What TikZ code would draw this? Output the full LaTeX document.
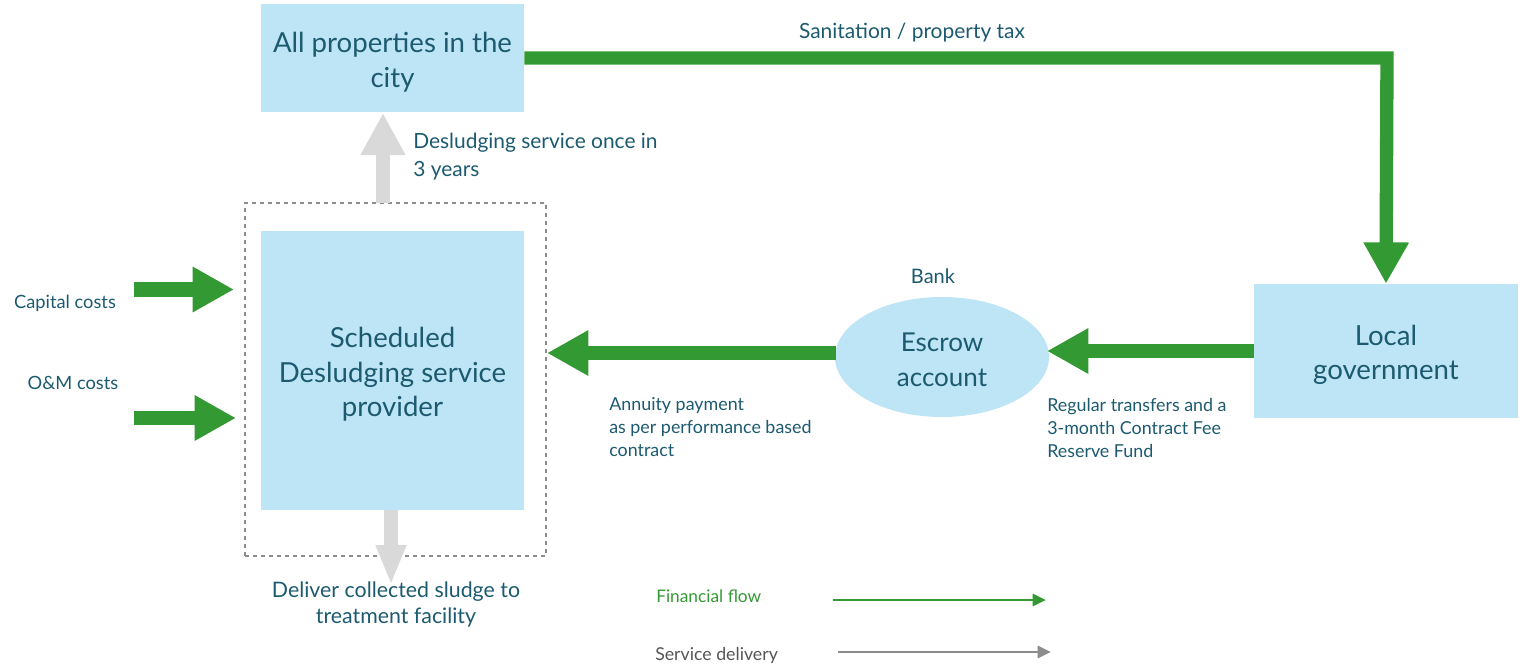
\documentclass[tikz,border=0pt]{standalone}
\usepackage{fontspec}
\setmainfont{Lato}
\usetikzlibrary{arrows.meta,shapes.geometric}
\definecolor{boxblue}{HTML}{BDE5F5}
\definecolor{txt}{HTML}{1C5A70}
\definecolor{fgreen}{HTML}{339933}
\definecolor{lgray}{HTML}{D9D9D9}
\definecolor{dgray}{HTML}{8C8C8C}
\definecolor{ltxt}{HTML}{555555}
\tikzset{
  bluebox/.style={rectangle, fill=boxblue, draw=none, text=txt, align=center, inner sep=0pt, font=\fontsize{20.7pt}{26pt}\selectfont},
  lbl/.style={text=txt, inner sep=0pt, font=\fontsize{13.5pt}{17.5pt}\selectfont},
  biggreen/.style={draw=fgreen, line width=10pt, line join=miter, -{Triangle[length=31pt,width=32pt]}},
  biggray/.style={draw=lgray, line width=10.5pt, -{Triangle[length=31.5pt,width=31.5pt]}},
  thingreen/.style={draw=fgreen, line width=2.2pt, -{Triangle[length=10pt,width=9pt]}},
  thingray/.style={draw=dgray, line width=2.2pt, -{Triangle[length=10pt,width=9pt]}},
}
\begin{document}
\begin{tikzpicture}[x=0.75pt,y=-0.75pt]
\useasboundingbox (0,0) rectangle (1521,664);

% main nodes
\node[bluebox, minimum width=197.25pt, minimum height=81pt] (props) at (392.5,58) {};
\node[bluebox] (propstxt) at (392.5,62) {All properties in the\\city};
\node[draw=dgray, dashed, line width=0.8pt, minimum width=225.75pt, minimum height=264.75pt, inner sep=0pt] (dash) at (395.5,379.5) {};
\node[bluebox, minimum width=197.25pt, minimum height=209.25pt] (sched) at (392.5,370.5) {};
\node[bluebox] (schedtxt) at (392.5,374.5) {Scheduled\\Desludging service\\provider};
\node[bluebox, minimum width=198pt, minimum height=100.5pt] (local) at (1386,351) {};
\node[bluebox] (localtxt) at (1386,355) {Local\\government};
\node[ellipse, fill=boxblue, inner sep=0pt, minimum width=160.5pt, minimum height=90pt] (escrow) at (942,357) {};
\node[text=txt, align=center, inner sep=0pt, font=\fontsize{19.5pt}{26pt}\selectfont] (escrowtxt) at (942,360) {Escrow\\account};

% labels
\node[lbl, font=\fontsize{15.7pt}{18pt}\selectfont] (tax) at (912,33) {Sanitation / property tax};
\node[lbl, align=left, anchor=west, font=\fontsize{15.7pt}{20.5pt}\selectfont] (once) at (413,156.5) {Desludging service once in\\3 years};
\node[lbl, font=\fontsize{15pt}{18pt}\selectfont] (bank) at (933,276) {Bank};
\node[lbl, font=\fontsize{13.7pt}{17pt}\selectfont] (cap) at (65,303) {Capital costs};
\node[lbl, font=\fontsize{13.7pt}{17pt}\selectfont] (om) at (73,383) {O\&M costs};
\node[lbl, align=left, anchor=west, font=\fontsize{13.4pt}{17.3pt}\selectfont] (annuity) at (609,427) {Annuity payment\\as per performance based\\contract};
\node[lbl, align=left, anchor=west, font=\fontsize{13.4pt}{17.3pt}\selectfont] (regular) at (1047,428) {Regular transfers and a\\3-month Contract Fee\\Reserve Fund};

% legend
\node[lbl, text=fgreen, anchor=west, font=\fontsize{13pt}{15pt}\selectfont] (legfin) at (656,596) {Financial flow};
\node[lbl, text=ltxt, anchor=west, font=\fontsize{13.3pt}{15pt}\selectfont] (legsvc) at (655,655) {Service delivery};
\coordinate (lf1) at (833,600);
\coordinate (lf2) at (1046,600);
\coordinate (ls1) at (838,652);
\coordinate (ls2) at (1051,652);
\draw[thingreen] (lf1) -- (lf2);
\draw[thingray] (ls1) -- (ls2);

% financial flows
\coordinate (corner) at (1387,58);
\draw[biggreen] (props.east) -- (corner) -- (local.north);
\coordinate (lgw) at (1254,351);
\coordinate (esce) at (1047,351);
\draw[biggreen] (lgw) -- (esce);
\coordinate (escw) at (836,353);
\coordinate (dashe) at (547,353);
\draw[biggreen] (escw) -- (dashe);
\coordinate (c1) at (134,289.5);
\coordinate (c2) at (234,289.5);
\draw[biggreen, line width=11pt] (c1) -- (c2);
\coordinate (o1) at (134,418);
\coordinate (o2) at (236,418);
\draw[biggreen, line width=10.5pt] (o1) -- (o2);

% service delivery
\coordinate (up1) at (383,203);
\coordinate (up2) at (383,113);
\draw[biggray] (up1) -- (up2);
\coordinate (dn1) at (391,510);
\coordinate (dn2) at (391,585);
\draw[draw=lgray, line width=10.5pt, -{Triangle[length=30pt,width=21pt]}] (dn1) -- (dn2);
\node[lbl, align=center, font=\fontsize{16pt}{19.5pt}\selectfont] (deliver) at (396,604) {Deliver collected sludge to\\treatment facility};
\end{tikzpicture}
\end{document}
